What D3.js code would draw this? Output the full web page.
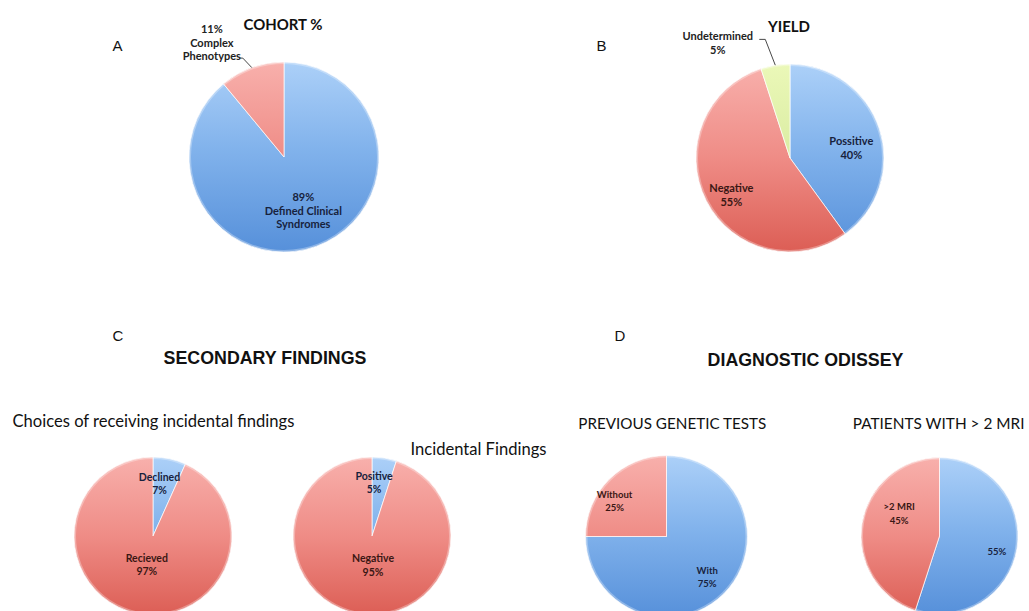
<!DOCTYPE html>
<html>
<head>
<meta charset="utf-8">
<script src="https://cdn.jsdelivr.net/npm/d3@7"></script>
<style>
  html, body { margin: 0; padding: 0; background: #fff; }
  svg { display: block; }
</style>
</head>
<body>
<svg id="chart" width="1029" height="611"></svg>
<script>
// Panel A – cohort composition (%)
const cohortLabels = ["Defined Clinical Syndromes", "Complex Phenotypes"];
const cohortValues = [89, 11];

// Panel B – diagnostic yield (%)
const yieldLabels = ["Possitive", "Negative", "Undetermined"];
const yieldValues = [40, 55, 5];

// Panel C – secondary findings (%)
const choiceLabels = ["Declined", "Recieved"];
const choiceValues = [7, 97];
const incidentalLabels = ["Positive", "Negative"];
const incidentalValues = [5, 95];

// Panel D – diagnostic odyssey (%)
const geneticLabels = ["With", "Without"];
const geneticValues = [75, 25];
const mriLabels = ["", ">2 MRI"];
const mriValues = [55, 45];

// Slice fills: vertical gradient stops per colour family
const palette = {
  blue:  [["0%", "#acd0f8"], ["45%", "#82b3ec"], ["100%", "#5690da"]],
  red:   [["0%", "#f8b0ac"], ["50%", "#ef8c86"], ["100%", "#dc5e55"]],
  green: [["0%", "#ebf8b8"], ["100%", "#c8e08c"]]
};
const inkFor = { blue: "#17223d", red: "#3a1714", green: "#2a2a1a" };

const svg = d3.select("#chart");
const defs = svg.append("defs");

// Word wrap for slice names
function wrap(name, maxChars) {
  if (!name) return [];
  const words = name.split(" ");
  const lines = [];
  let cur = "";
  words.forEach(w => {
    const next = cur ? cur + " " + w : w;
    if (next.length > maxChars && cur) { lines.push(cur); cur = w; }
    else cur = next;
  });
  if (cur) lines.push(cur);
  return lines;
}

const pies = [
  { id: "cohort", labels: cohortLabels, values: cohortValues, colors: ["blue", "red"],
    cx: 284, cy: 157, r: 95, font: 11, lh: 13.5, pctFirst: true,
    place: [ { rho: 0.6, dx: 0, dy: 0 },
             { rho: 1.28, dx: -31, dy: 0, outside: true, leader: [27, 15.5, 4] } ] },
  { id: "yield", labels: yieldLabels, values: yieldValues, colors: ["blue", "red", "green"],
    cx: 790, cy: 158, r: 94, font: 11, lh: 14, pctFirst: false,
    place: [ { rho: 0.686, dx: 0, dy: 9.6 },
             { rho: 0.70, dx: 0, dy: 7 },
             { rho: 1.24, dx: -54, dy: 0, outside: true, leader: [41.5, -3.5, 6] } ] },
  { id: "choice", labels: choiceLabels, values: choiceValues, colors: ["blue", "red"],
    cx: 153, cy: 536, r: 79, font: 10.5, lh: 13.3, pctFirst: false,
    place: [ { rho: 0.68, dx: -4.8, dy: 0 }, { rho: 0.375, dx: 0, dy: 0 } ] },
  { id: "incidental", labels: incidentalLabels, values: incidentalValues, colors: ["blue", "red"],
    cx: 372, cy: 536, r: 79, font: 10.5, lh: 13.3, pctFirst: false,
    place: [ { rho: 0.684, dx: -6.4, dy: 0 }, { rho: 0.374, dx: 5.6, dy: 0 } ] },
  { id: "genetic", labels: geneticLabels, values: geneticValues, colors: ["blue", "red"],
    cx: 666.5, cy: 536.5, r: 81, font: 9.5, lh: 12.3, pctFirst: false,
    place: [ { rho: 0.71, dx: 0, dy: 0 }, { rho: 0.78, dx: -7.3, dy: 9.2 } ] },
  { id: "mri", labels: mriLabels, values: mriValues, colors: ["blue", "red"],
    cx: 939.5, cy: 536, r: 78.5, font: 9.5, lh: 14, pctFirst: false,
    place: [ { rho: 0.74, dx: 0, dy: 6.5 }, { rho: 0.52, dx: 0, dy: -16.2 } ] }
];

const pieGen = d3.pie().sort(null).value(d => d);

pies.forEach(p => {
  // one gradient per colour, spanning the whole disc (local coordinates)
  p.colors.forEach(c => {
    const g = defs.append("linearGradient")
      .attr("id", `g-${p.id}-${c}`)
      .attr("gradientUnits", "userSpaceOnUse")
      .attr("x1", 0).attr("y1", -p.r)
      .attr("x2", 0).attr("y2", p.r);
    palette[c].forEach(([o, col]) => g.append("stop").attr("offset", o).attr("stop-color", col));
  });

  const arcs = pieGen(p.values);
  const arc = d3.arc().innerRadius(0).outerRadius(p.r);
  const g = svg.append("g").attr("transform", `translate(${p.cx},${p.cy})`);

  g.selectAll("path.slice")
    .data(arcs)
    .join("path")
    .attr("class", "slice")
    .attr("d", arc)
    .attr("fill", (d, i) => `url(#g-${p.id}-${p.colors[i]})`)
    .attr("stroke", "rgba(255,255,255,0.7)")
    .attr("stroke-width", 1);

  // soft rim
  g.append("circle").attr("r", p.r - 1)
    .attr("fill", "none")
    .attr("stroke", "rgba(255,255,255,0.3)")
    .attr("stroke-width", 2);

  arcs.forEach((a, i) => {
    const pl = p.place[i];
    const mid = (a.startAngle + a.endAngle) / 2;
    const ax = Math.sin(mid) * p.r * pl.rho + pl.dx;
    const ay = -Math.cos(mid) * p.r * pl.rho + pl.dy;
    const pct = `${p.values[i]}%`;
    const names = wrap(p.labels[i], 16);
    const lines = p.pctFirst ? [pct, ...names] : [...names, pct];
    const cap = p.font * 0.36;
    const y0 = ay - (lines.length - 1) * p.lh / 2 + cap;
    const t = g.append("text")
      .attr("text-anchor", "middle")
      .attr("font-family", "Lato, 'Open Sans', sans-serif")
      .attr("font-weight", 700)
      .attr("font-size", p.font)
      .attr("fill", pl.outside ? "#222" : inkFor[p.colors[i]]);
    lines.forEach((ln, k) => {
      t.append("tspan").attr("x", ax).attr("y", y0 + k * p.lh).text(ln);
    });
    if (pl.leader) {
      const sx = ax + pl.leader[0], sy = ay + pl.leader[1];
      const ex = Math.sin(mid) * p.r, ey = -Math.cos(mid) * p.r;
      g.append("path")
        .attr("d", d3.line()([[sx, sy], [sx + pl.leader[2], sy], [ex, ey]]))
        .attr("fill", "none")
        .attr("stroke", "#333")
        .attr("stroke-width", 0.9);
    }
  });
});

// Headings and panel letters
function fitWidth(sel, w) {
  const len = sel.node().getComputedTextLength();
  const size = parseFloat(sel.attr("font-size"));
  sel.attr("font-size", size * w / len);
}

const arial = "'Liberation Sans', Arial, sans-serif";
const texts = [
  { t: "A", x: 112.5, y: 50.5, size: 15, family: arial, weight: 400, anchor: "start", fill: "#111" },
  { t: "B", x: 596.5, y: 51, size: 15, family: arial, weight: 400, anchor: "start", fill: "#111" },
  { t: "C", x: 112.5, y: 341, size: 15, family: arial, weight: 400, anchor: "start", fill: "#111" },
  { t: "D", x: 614.5, y: 340.5, size: 15, family: arial, weight: 400, anchor: "start", fill: "#111" },
  { t: "COHORT %", x: 283, y: 29.5, size: 15, family: "Lato, sans-serif", weight: 700, anchor: "middle", fill: "#111", w: 79 },
  { t: "YIELD", x: 789, y: 31.5, size: 15, family: "Lato, sans-serif", weight: 700, anchor: "middle", fill: "#111", w: 42 },
  { t: "SECONDARY FINDINGS", x: 265, y: 363.5, size: 17, family: arial, weight: 700, anchor: "middle", fill: "#111", w: 203 },
  { t: "DIAGNOSTIC ODISSEY", x: 805.5, y: 365.5, size: 17, family: arial, weight: 700, anchor: "middle", fill: "#111", w: 196 },
  { t: "Choices of receiving incidental findings", x: 12.5, y: 427.3, size: 16, family: "Lato, sans-serif", weight: 400, anchor: "start", fill: "#111", w: 282 },
  { t: "Incidental Findings", x: 410.5, y: 455, size: 16, family: "Lato, sans-serif", weight: 400, anchor: "start", fill: "#111", w: 136 },
  { t: "PREVIOUS GENETIC TESTS", x: 578.3, y: 429.3, size: 16, family: "Lato, sans-serif", weight: 400, anchor: "start", fill: "#111", w: 188 },
  { t: "PATIENTS WITH > 2 MRI", x: 852.7, y: 429.3, size: 16, family: "Lato, sans-serif", weight: 400, anchor: "start", fill: "#111", w: 172 }
];

texts.forEach(d => {
  const s = svg.append("text")
    .attr("x", d.x).attr("y", d.y)
    .attr("text-anchor", d.anchor)
    .attr("font-family", d.family)
    .attr("font-weight", d.weight)
    .attr("font-size", d.size)
    .attr("fill", d.fill)
    .text(d.t);
  if (d.w) fitWidth(s, d.w);
});
</script>
</body>
</html>
